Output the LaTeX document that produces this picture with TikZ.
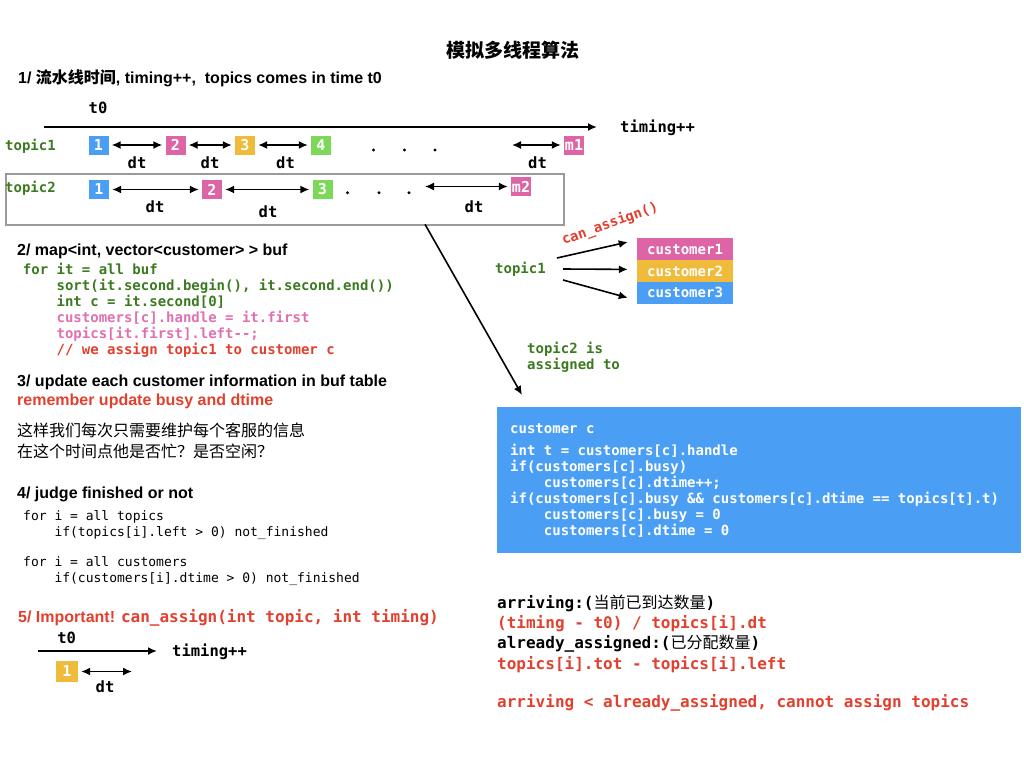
\documentclass[tikz,border=0pt]{standalone}
\usepackage{fontspec}
\setmainfont{Liberation Sans}
\setmonofont{DejaVu Sans Mono}
\newfontfamily\cjk{Noto Sans CJK SC}
\usetikzlibrary{arrows.meta}
\usetikzlibrary{positioning}

\definecolor{tblue}{HTML}{4A9FF5}
\definecolor{tpink}{HTML}{DD65A6}
\definecolor{tyellow}{HTML}{F0BB3B}
\definecolor{tgreen}{HTML}{7DD85A}
\definecolor{cred}{HTML}{E2402E}
\definecolor{cgreen}{HTML}{3B7A1F}
\definecolor{cpink}{HTML}{E070B0}
\definecolor{framegray}{HTML}{9A9A9A}

\newcommand{\codeind}{\phantom{xxxx}}

\begin{document}
\begin{tikzpicture}
	[> = {Latex[length=9pt,width=8pt]}, x=1pt, y=-1pt,
	every node/.style={inner sep=0pt},
	txt/.style={anchor=base west},
	head/.style={txt, font=\bfseries\fontsize{16}{20}\selectfont},
	code/.style={txt, align=left, font=\ttfamily\bfseries\fontsize{14}{16}\selectfont},
	tlbl/.style={txt, text=cgreen, font=\ttfamily\bfseries\fontsize{14}{16}\selectfont},
	lbl/.style={anchor=base, font=\ttfamily\bfseries\fontsize{15.5}{16}\selectfont},
	tbox/.style={fill=#1, text=white, minimum width=20, minimum height=19, font=\ttfamily\bfseries\fontsize{15}{15}\selectfont},
	cbox/.style={fill=#1, text=white, minimum width=96, minimum height=21.5, font=\ttfamily\bfseries\fontsize{14}{14}\selectfont},
	gap/.style={<->, line width=1.5pt, shorten <=3pt, shorten >=3pt},
	arr/.style={->, line width=1.6pt}
	]
	\useasboundingbox (0,0) rectangle (1024,768);

	\node[anchor=base, font=\cjk\bfseries\fontsize{19}{19}\selectfont] (title) at (512.5,57) {模拟多线程算法};

	% 1/ timeline
	\node[head] (h1) at (18,83) {1/ {\cjk 流水线时间}, timing++,\ \ topics comes in time t0};
	\node[lbl] (t0) at (98,113) {t0};
	\coordinate (tl0) at (44,127);
	\coordinate (tl1) at (597,127);
	\draw[->, line width=2pt] (tl0) -- (tl1);
	\node[lbl, anchor=base west] (timing) at (620,132) {timing++};

	\node[tlbl] (topicA) at (5,150) {topic1};
	\node[tbox=tblue] (a1) at (98.5,145) {1};
	\node[tbox=tpink] (a2) at (175.5,145) {2};
	\node[tbox=tyellow] (a3) at (245,145) {3};
	\node[tbox=tgreen] (a4) at (321,145) {4};
	\node[tbox=tpink] (am) at (574,145) {m1};
	\coordinate (ae) at (509,145);
	\draw[gap] (a1) -- (a2);
	\draw[gap] (a2) -- (a3);
	\draw[gap] (a3) -- (a4);
	\draw[gap] (ae) -- (am);
	\foreach \x in {373.5,404.5,435} \fill (\x,150) circle (1.6);
	\node[lbl] (dt1) at (137,168) {dt};
	\node[lbl] (dt2) at (210,168) {dt};
	\node[lbl] (dt3) at (285.5,168) {dt};
	\node[lbl] (dt4) at (537.5,168) {dt};

	\node[draw=framegray, line width=2pt, minimum width=558.5, minimum height=51.6, anchor=north west] (frame) at (4.5,172.7) {};
	\node[tlbl] (topicB) at (5,192.7) {topic2};
	\node[tbox=tblue] (b1) at (99,189.5) {1};
	\node[tbox=tpink] (b2) at (212,189.5) {2};
	\node[tbox=tgreen] (b3) at (322.5,189.5) {3};
	\node[tbox=tpink] (bm) at (521,186.5) {m2};
	\coordinate (be) at (422,186.5);
	\draw[gap] (b1) -- (b2);
	\draw[gap] (b2) -- (b3);
	\draw[gap] (be) -- (bm);
	\foreach \x in {347.5,379,409} \fill (\x,192.7) circle (1.6);
	\node[lbl] (dt5) at (155,212.7) {dt};
	\node[lbl] (dt6) at (268,217) {dt};
	\node[lbl] (dt7) at (474,212.7) {dt};

	% 2/ buf
	\node[head] (h2) at (17,255) {2/ map<int, vector<customer> > buf};
	\node[code, text=cgreen] (buf) at (22.7,354) {for it = all buf\\
		\codeind sort(it.second.begin(), it.second.end())\\
		\codeind int c = it.second[0]\\
		\codeind\textcolor{cpink}{customers[c].handle = it.first}\\
		\codeind\textcolor{cpink}{topics[it.first].left--;}\\
		\codeind\textcolor{cred}{// we assign topic1 to customer c}};

	% 3/ update
	\node[head] (h3) at (17,386) {3/ update each customer information in buf table};
	\node[head, text=cred] (h3b) at (17,405) {remember update busy and dtime};
	\node[txt, align=left, font=\cjk\fontsize{16}{21}\selectfont] (zh) at (17,457) {这样我们每次只需要维护每个客服的信息\\在这个时间点他是否忙？是否空闲？};

	% 4/ finished
	\node[head] (h4) at (17,498) {4/ judge finished or not};
	\node[txt, align=left, font=\ttfamily\fontsize{13}{15.3}\selectfont] (fin) at (23,582) {for i = all topics\\
		\codeind if(topics[i].left > 0) not\_finished\\[15.3pt]
		for i = all customers\\
		\codeind if(customers[i].dtime > 0) not\_finished};

	% 5/ can_assign
	\node[head, text=cred] (h5) at (18,622) {5/ Important! {\ttfamily can\_assign(int topic, int timing)}};
	\node[lbl] (t0b) at (66.7,643) {t0};
	\coordinate (sl0) at (38,651);
	\coordinate (sl1) at (157,651);
	\draw[->, line width=1.8pt] (sl0) -- (sl1);
	\node[lbl, anchor=base west] (timingb) at (172,656) {timing++};
	\node[tbox=tyellow, minimum width=22, minimum height=21] (q1) at (67,671.5) {1};
	\coordinate (qe) at (135,671.5);
	\draw[gap] (q1) -- (qe);
	\node[lbl] (dts) at (105,692) {dt};

	% right side
	\node[font=\ttfamily\bfseries\fontsize{14}{14}\selectfont, text=cred, rotate=19.7] (canas) at (610,224) {can\_assign()};
	\node[tlbl] (topicC) at (495,273) {topic1};
	\node[cbox=tpink] (c1) at (685,249) {customer1};
	\node[cbox=tyellow, below=0pt of c1] (c2) {customer2};
	\node[cbox=tblue, below=0pt of c2] (c3) {customer3};
	\coordinate (s1) at (557,258);
	\coordinate (s2) at (563,269);
	\coordinate (s3) at (563,280);
	\draw[arr] (s1) -- ([xshift=-9pt, yshift=7pt]c1.west);
	\draw[arr] (s2) -- ([xshift=-9pt, yshift=1.5pt]c2.west);
	\draw[arr] (s3) -- ([xshift=-9pt, yshift=-5pt]c3.west);

	\coordinate (fr) at (425,224.3);
	\coordinate (cc) at (522,395);
	\draw[arr] (fr) -- (cc);
	\node[code, text=cgreen] (asg) at (527,369) {topic2 is\\assigned to};

	\node[fill=tblue, minimum width=524, minimum height=146, anchor=north west] (cust) at (497,407) {};
	\node[code, text=white] (custc) at (510,433) {customer c};
	\node[code, text=white] (custcode) at (510,535) {int t = customers[c].handle\\
		if(customers[c].busy)\\
		\codeind customers[c].dtime++;\\
		if(customers[c].busy \&\& customers[c].dtime == topics[t].t)\\
		\codeind customers[c].busy = 0\\
		\codeind customers[c].dtime = 0};

	\node[code, font=\ttfamily\bfseries\fontsize{16}{20.4}\selectfont] (arrv) at (497,669.2) {arriving:({\cjk\mdseries 当前已到达数量})\\
		\textcolor{cred}{(timing - t0) / topics[i].dt}\\
		already\_assigned:({\cjk\mdseries 已分配数量})\\
		\textcolor{cred}{topics[i].tot - topics[i].left}};
	\node[code, text=cred, font=\ttfamily\bfseries\fontsize{16}{20.4}\selectfont] (cmp) at (497,707.3) {arriving < already\_assigned, cannot assign topics};
\end{tikzpicture}
\end{document}
